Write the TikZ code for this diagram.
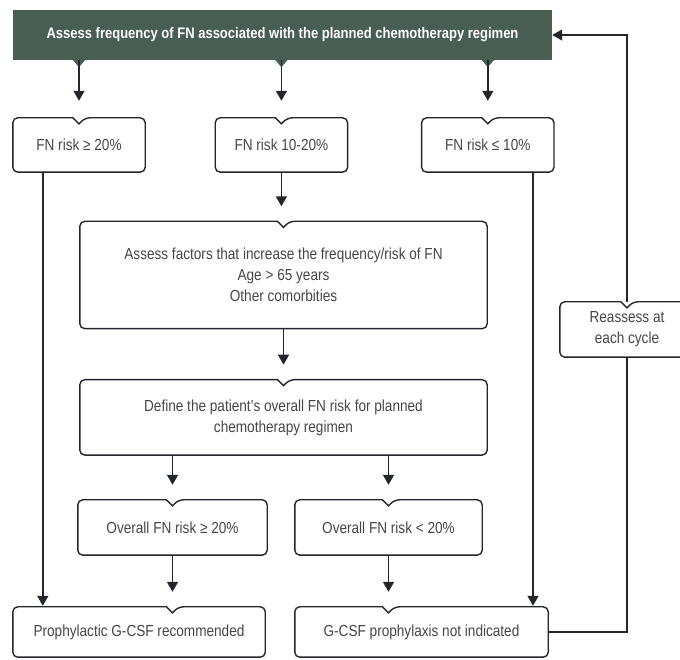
\documentclass[tikz,border=0pt]{standalone}
\usepackage{fontspec}
\setmainfont{Liberation Sans}[FakeStretch=0.85]
\usetikzlibrary{positioning,calc,arrows.meta}

\definecolor{barfill}{RGB}{72,94,82}
\definecolor{inkline}{RGB}{35,38,45}
\definecolor{inktext}{RGB}{70,70,70}

\tikzset{
  flowbox/.style={inner sep=0pt, align=center, text=inktext,
    font=\fontsize{16}{21}\selectfont},
  frameline/.style={draw=inkline, line width=1.4pt},
  flow/.style={->, draw=inkline, line width=1.6pt, shorten >=15pt},
  link/.style={draw=inkline, line width=1.6pt}
}

% frame of a box with the small notch on its top edge, under node #2
\newcommand{\notchframe}[2]{%
  \draw[frameline] ($(#1.north -| #2)+(-6,0)$) [rounded corners=5pt]
    -- (#1.north west) -- (#1.south west) -- (#1.south east)
    -- (#1.north east) -- ($(#1.north -| #2)+(6,0)$) [sharp corners]
    -- ($(#1.north -| #2)+(0,-6)$) -- cycle;
}

\begin{document}
\begin{tikzpicture}[x=1pt, y=1pt, >={Triangle[length=10pt,width=11pt]}]
  \useasboundingbox (0,0) rectangle (680,660);
  \clip (0,0) rectangle (680,660);

  % --- Header bar ---
  \node (bar) [fill=barfill, minimum width=539pt, minimum height=50pt,
    text=white, font=\fontsize{15.3}{18}\selectfont\bfseries] at (282.5,625)
    {Assess frequency of FN associated with the planned chemotherapy regimen};

  % --- Risk level boxes ---
  \node (riskhigh) [flowbox, minimum width=132pt, minimum height=54pt] at (79,515) {FN risk ≥ 20\%};
  \node (riskmid) [flowbox, minimum width=132pt, minimum height=54pt, right=70pt of riskhigh] {FN risk 10-20\%};
  \node (risklow) [flowbox, minimum width=132pt, minimum height=54pt, right=74pt of riskmid] {FN risk ≤ 10\%};

  % --- Intermediate risk branch ---
  \node (factors) [flowbox, minimum width=407pt, minimum height=107pt] at (283.5,385)
    {Assess factors that increase the frequency/risk of FN\\Age > 65 years\\Other comorbities};
  \node (define) [flowbox, minimum width=407pt, minimum height=75pt, below=51pt of factors]
    {Define the patient's overall FN risk for planned\\chemotherapy regimen};
  \node (overallhigh) [flowbox, minimum width=189pt, minimum height=55pt] at (172.5,132.5) {Overall FN risk ≥ 20\%};
  \node (overalllow) [flowbox, minimum width=187pt, minimum height=55pt] at (388.5,132.5) {Overall FN risk < 20\%};

  % --- Outcomes ---
  \node (gcsfyes) [flowbox, minimum width=252pt, minimum height=50pt] at (139,28) {Prophylactic G-CSF recommended};
  \node (gcsfno) [flowbox, minimum width=253pt, minimum height=50pt] at (421.5,28) {G-CSF prophylaxis not indicated};
  \node (reassess) [flowbox, minimum width=134pt, minimum height=55pt] at (627,330.5) {Reassess at\\each cycle};

  % --- Box frames ---
  \foreach \n in {riskhigh,riskmid,risklow,factors,define,overallhigh,overalllow,reassess}
    \notchframe{\n}{\n};
  \notchframe{gcsfyes}{overallhigh}
  \notchframe{gcsfno}{overalllow}

  % --- Arrows out of the header ---
  \foreach \n in {riskhigh,riskmid,risklow} {
    \fill[barfill] ($(bar.south -| \n)+(-6,0)$) -- ($(bar.south -| \n)+(6,0)$)
      -- ($(bar.south -| \n)+(0,-7)$) -- cycle;
    \draw[flow, shorten >=17pt] (bar.south -| \n) -- (\n.north);
  }

  % --- Main flow ---
  \draw[flow] (riskmid.south) -- (factors.north -| riskmid);
  \draw[flow] (factors.south) -- (define.north);
  \draw[flow] (define.south -| overallhigh) -- (overallhigh.north);
  \draw[flow] (define.south -| overalllow) -- (overalllow.north);
  \draw[flow] (overallhigh.south) -- (gcsfyes.north -| overallhigh);
  \draw[flow] (overalllow.south) -- (gcsfno.north -| overalllow);

  % --- Direct drops ---
  \coordinate (highdrop) at ($(riskhigh.south west)+(30,0)$);
  \coordinate (lowdrop) at ($(risklow.south east)+(-21,0)$);
  \draw[flow, shorten >=1pt] (highdrop) -- (highdrop |- gcsfyes.north);
  \draw[flow, shorten >=1pt] (lowdrop) -- (lowdrop |- gcsfno.north);

  % --- Feedback loop ---
  \draw[link] (gcsfno.east) -| (reassess.south);
  \draw[flow, shorten >=0pt] (reassess.north) |- (bar.east);
\end{tikzpicture}
\end{document}
